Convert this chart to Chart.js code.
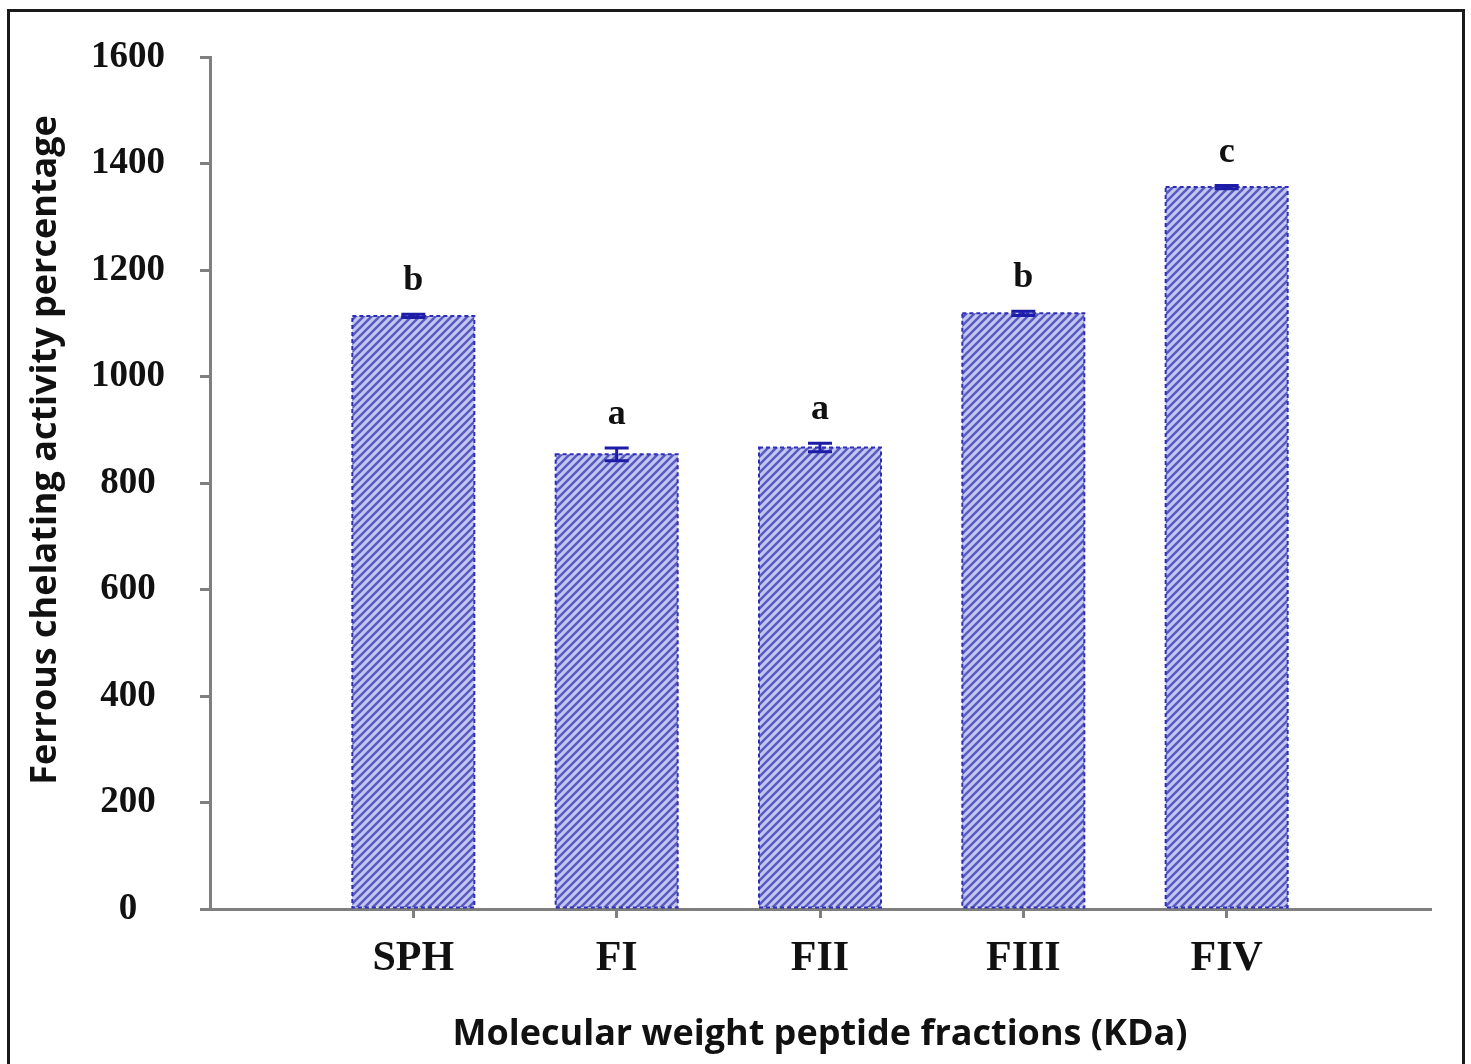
<!DOCTYPE html>
<html>
<head>
<meta charset="utf-8">
<script src="https://cdn.jsdelivr.net/npm/chart.js@4.4.1/dist/chart.umd.min.js"></script>
<style>
  html, body { margin: 0; padding: 0; background: #fff; overflow: hidden; }
  #wrap { position: relative; width: 1471px; height: 1064px; }
  #frame { position: absolute; left: 7px; top: 9px; width: 1452px; height: 1100px; border: 3px solid #1a1a1a; pointer-events: none; }
</style>
</head>
<body>
<div id="wrap">
  <canvas id="myBarChart"></canvas>
  <div id="frame"></div>
</div>
<script>
const categories = ['SPH', 'FI', 'FII', 'FIII', 'FIV'];
const activity = [1114, 854, 867, 1119, 1356];
const errors = [3, 12, 8, 4, 3];
const letters = ['b', 'a', 'a', 'b', 'c'];
const yTicks = [0, 200, 400, 600, 800, 1000, 1200, 1400, 1600];
const yTitle = 'Ferrous chelating activity percentage';
const xTitle = 'Molecular weight peptide fractions (KDa)';

const ctx = document.getElementById('myBarChart').getContext('2d');

// diagonal hatch fill for the bars
function makeHatch() {
    const c = document.createElement('canvas');
    c.width = 8;
    c.height = 8;
    const g = c.getContext('2d');
    g.fillStyle = '#c4c7f4';
    g.fillRect(0, 0, 8, 8);
    g.strokeStyle = '#585cbe';
    g.lineWidth = 2.6;
    g.beginPath();
    g.moveTo(0, 8); g.lineTo(8, 0);
    g.moveTo(-4, 4); g.lineTo(4, -4);
    g.moveTo(4, 12); g.lineTo(12, 4);
    g.stroke();
    return ctx.createPattern(c, 'repeat');
}

const barExtras = {
    id: 'barExtras',
    afterDatasetsDraw(chart) {
        const c = chart.ctx;
        const y = chart.scales.y;
        const meta = chart.getDatasetMeta(0);
        c.save();
        meta.data.forEach((bar, i) => {
            const left = bar.x - bar.width / 2;
            c.setLineDash([4, 3]);
            c.strokeStyle = '#2e2eb8';
            c.lineWidth = 2;
            c.strokeRect(left, bar.y, bar.width, bar.base - bar.y);

            c.setLineDash([]);
            const top = y.getPixelForValue(activity[i] + errors[i]);
            const bottom = y.getPixelForValue(activity[i] - errors[i]);
            c.strokeStyle = '#1c1ca8';
            c.lineWidth = 3;
            c.beginPath();
            c.moveTo(bar.x, top); c.lineTo(bar.x, bottom);
            c.moveTo(bar.x - 12, top); c.lineTo(bar.x + 12, top);
            c.moveTo(bar.x - 12, bottom); c.lineTo(bar.x + 12, bottom);
            c.stroke();

            c.fillStyle = '#111';
            c.font = 'bold 36px "Liberation Serif"';
            c.textAlign = 'center';
            c.textBaseline = 'alphabetic';
            c.fillText(letters[i], bar.x, top - 24);
        });

        // y axis title
        c.translate(46, 450);
        c.rotate(-Math.PI / 2);
        c.fillStyle = '#111';
        c.font = 'bold 36px "Open Sans"';
        c.textAlign = 'center';
        c.textBaseline = 'middle';
        c.fillText(yTitle, 0, 0);
        c.restore();
    }
};

const barChart = new Chart(ctx, {
    type: 'bar',
    data: {
        datasets: [{
            label: 'Ferrous chelating activity',
            data: activity.map((v, i) => ({ x: i + 1, y: v })),
            backgroundColor: makeHatch(),
            borderWidth: 0,
            barPercentage: 0.6,
            categoryPercentage: 1
        }]
    },
    options: {
        responsive: true,
        maintainAspectRatio: false,
        animation: false,
        layout: {
            padding: { top: 57, right: 41, left: 0, bottom: 0 }
        },
        scales: {
            x: {
                type: 'linear',
                min: 0,
                max: 6,
                offset: false,
                afterBuildTicks: s => { s.ticks = categories.map((c, i) => ({ value: i + 1 })); },
                afterFit: s => { s.height = 155; },
                ticks: {
                    callback: v => categories[v - 1],
                    autoSkip: false,
                    maxRotation: 0,
                    padding: 16,
                    color: '#111',
                    font: { family: '"Liberation Serif"', weight: 'bold', size: 42 }
                },
                grid: { offset: false, drawOnChartArea: false, tickLength: 9, color: '#7f7f7f', lineWidth: 3 },
                border: { color: '#7f7f7f', width: 3 },
                title: {
                    display: true,
                    text: xTitle,
                    color: '#111',
                    padding: { top: 0, bottom: 8 },
                    font: { family: '"Open Sans"', weight: 'bold', size: 36 }
                }
            },
            y: {
                min: 0,
                max: 1600,
                afterBuildTicks: s => { s.ticks = yTicks.map(v => ({ value: v })); },
                afterFit: s => { s.width = 210; },
                ticks: {
                    callback: v => String(v),
                    crossAlign: 'center',
                    padding: 35,
                    color: '#111',
                    font: { family: '"Liberation Serif"', weight: 'bold', size: 37 }
                },
                grid: { drawOnChartArea: false, tickLength: 10, color: '#7f7f7f', lineWidth: 3 },
                border: { color: '#7f7f7f', width: 3 }
            }
        },
        plugins: {
            legend: { display: false },
            tooltip: { enabled: false }
        }
    },
    plugins: [barExtras]
});
</script>
</body>
</html>
